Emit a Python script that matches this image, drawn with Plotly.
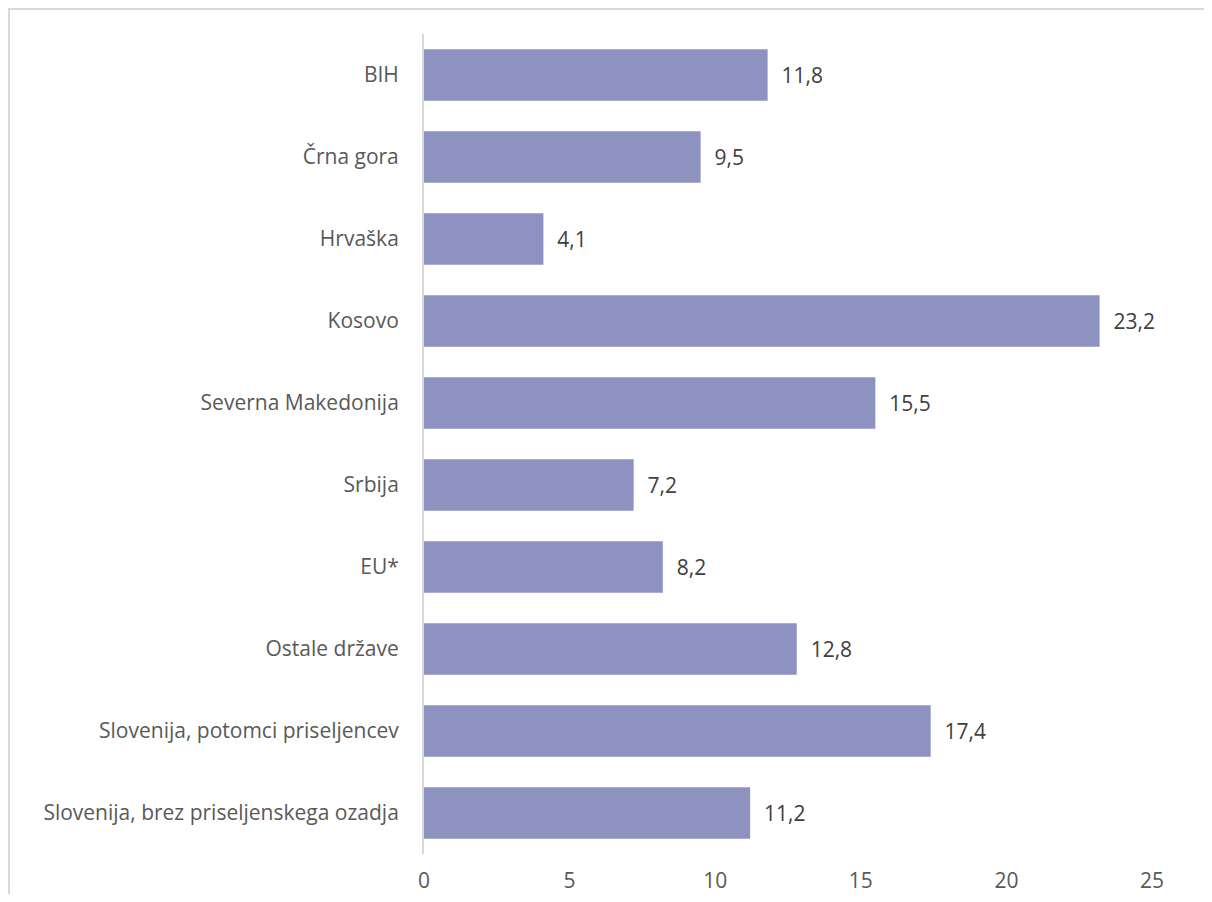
import plotly.graph_objects as go

categories = ["BIH", "Črna gora", "Hrvaška", "Kosovo", "Severna Makedonija", "Srbija",
              "EU*", "Ostale države", "Slovenija, potomci priseljencev",
              "Slovenija, brez priseljenskega ozadja"]
values = [11.8, 9.5, 4.1, 23.2, 15.5, 7.2, 8.2, 12.8, 17.4, 11.2]
x_ticks = [0, 5, 10, 15, 20, 25]

labels = ["\u00a0\u00a0" + f"{v:.1f}".replace(".", ",") for v in values]

FONT = "Open Sans"
FS = 21

fig = go.Figure(go.Bar(
    y=categories, x=values, orientation="h",
    marker=dict(color="#8E92C1", line=dict(width=0)),
    text=labels, textposition="outside", cliponaxis=False,
    textfont=dict(family=FONT, size=FS, color="#404040"),
))

# page body has an 8px margin, so positions are shifted by -8
O = 8
W, H = 1212 - 2 * O, 902 - 2 * O
L, R, T, B = 424 - O, 1152 - O, 34 - O, 854 - O

fig.update_layout(
    width=W, height=H,
    margin=dict(l=L, r=W - R, t=T, b=H - B, autoexpand=False),
    paper_bgcolor="white", plot_bgcolor="white",
    bargap=0.37, showlegend=False,
    font=dict(family=FONT, size=FS, color="#595959"),
    xaxis=dict(range=[0, 25], tickvals=x_ticks, showgrid=False, zeroline=False,
               showline=False, ticks="", ticklabelstandoff=12,
               tickfont=dict(family=FONT, size=FS, color="#595959")),
    yaxis=dict(autorange="reversed", showgrid=False, zeroline=False,
               showline=True, linecolor="#D9D9D9", linewidth=2, ticks="",
               ticklabelstandoff=19,
               tickfont=dict(family=FONT, size=FS, color="#595959")),
)

pw, ph = R - L, B - T
fig.add_shape(type="rect", xref="paper", yref="paper",
              x0=(9 - O - L) / pw, x1=(W + 10 - L) / pw,
              y0=-(H + 10 - B) / ph, y1=1 + (T - (8 - O) - 1) / ph,
              line=dict(color="#D9D9D9", width=2), layer="below")

fig.write_html("out.html")
